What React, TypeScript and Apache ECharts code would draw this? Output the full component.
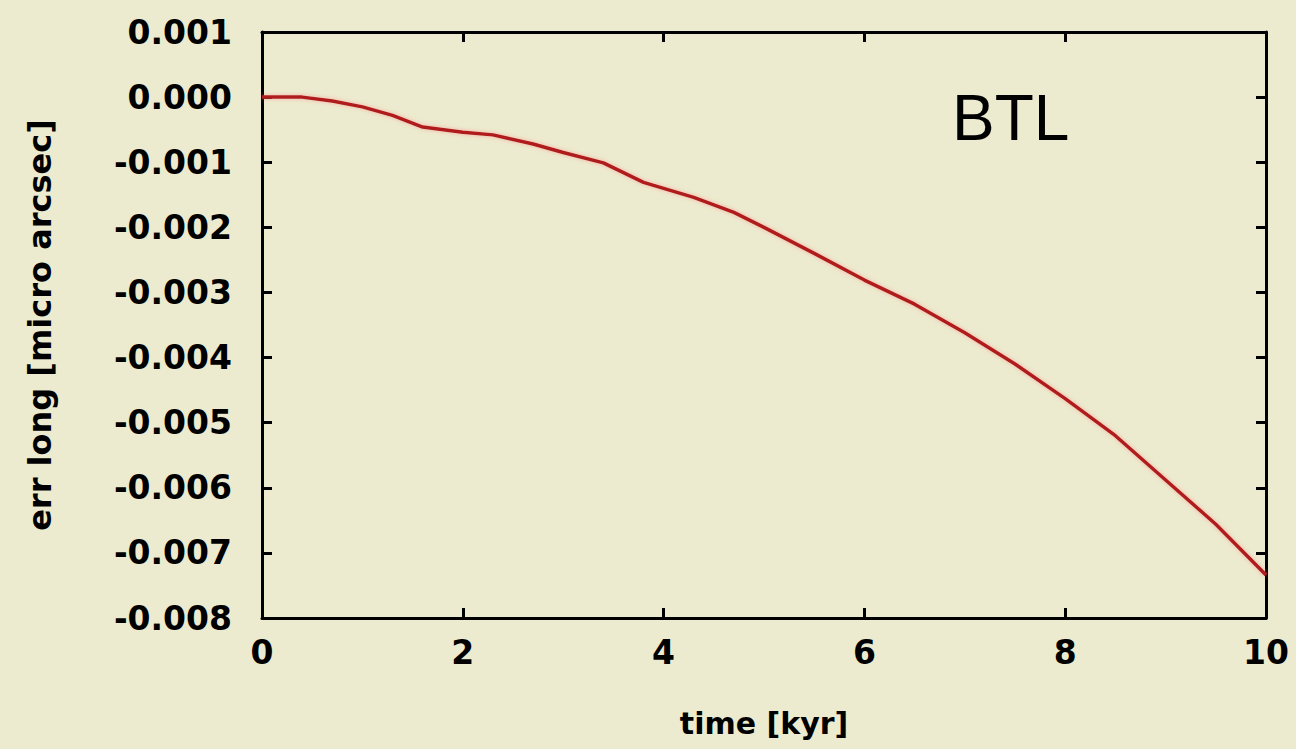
import React, { useEffect, useRef } from "react";
import * as echarts from "echarts";

// Time since epoch, in kyr
const timeKyr = [0, 0.4, 0.7, 1.0, 1.3, 1.6, 2.0, 2.3, 2.7, 3.0, 3.4, 3.8, 4.3, 4.7, 5.0, 5.5, 6.0, 6.5, 7.0, 7.5, 8.0, 8.5, 9.0, 9.5, 10.0];
// Longitude error, micro arcsec
const errLong = [0, 0, -0.00006, -0.00015, -0.00028, -0.00046, -0.00054, -0.00058, -0.00072, -0.00085, -0.00101, -0.00131, -0.00154, -0.00177, -0.002, -0.0024, -0.00281, -0.00318, -0.00362, -0.0041, -0.00463, -0.0052, -0.00588, -0.00656, -0.00734];

const xTicks = { min: 0, max: 10, step: 2 };
const yTicks = { min: -0.008, max: 0.001, step: 0.001 };

const seriesLabel = "BTL";
const xTitle = "time [kyr]";
const yTitle = "err long [micro arcsec]";

const FONT = "DejaVu Sans, Verdana, sans-serif";
const BTL_FONT = "Liberation Sans, Arial, sans-serif";

export default function App() {
  const ref = useRef<HTMLDivElement>(null);

  useEffect(() => {
    if (!ref.current) return;
    const chart = echarts.init(ref.current, null, { renderer: "svg" });
    const data = timeKyr.map((t, i) => [t, errLong[i]]);
    const tick = { show: true, inside: true, length: 10, lineStyle: { color: "#000", width: 3 } };
    const line = { show: true, onZero: false, lineStyle: { color: "#000", width: 3 } };
    const labelStyle = { color: "#000", fontFamily: FONT, fontSize: 33, fontWeight: "bold" as const };

    chart.setOption({
      animation: false,
      backgroundColor: "#ECEBCF",
      grid: { left: 262, right: 30, top: 32, bottom: 131 },
      xAxis: [
        {
          type: "value",
          min: xTicks.min,
          max: xTicks.max,
          interval: xTicks.step,
          position: "bottom",
          axisLine: line,
          axisTick: tick,
          splitLine: { show: false },
          axisLabel: { ...labelStyle, margin: 18 },
          name: xTitle,
          nameLocation: "middle",
          nameGap: 90,
          nameTextStyle: { ...labelStyle, fontSize: 30 },
        },
        {
          type: "value",
          min: xTicks.min,
          max: xTicks.max,
          interval: xTicks.step,
          position: "top",
          axisLine: line,
          axisTick: tick,
          splitLine: { show: false },
          axisLabel: { show: false },
        },
      ],
      yAxis: [
        {
          type: "value",
          min: yTicks.min,
          max: yTicks.max,
          interval: yTicks.step,
          position: "left",
          axisLine: line,
          axisTick: tick,
          splitLine: { show: false },
          axisLabel: {
            ...labelStyle,
            margin: 30,
            formatter: (v: number) => (Math.abs(v) < 1e-9 ? "0.000" : v.toFixed(3)),
          },
          name: yTitle,
          nameLocation: "middle",
          nameGap: 206,
          nameRotate: 90,
          nameTextStyle: { ...labelStyle, fontSize: 32 },
        },
        {
          type: "value",
          min: yTicks.min,
          max: yTicks.max,
          interval: yTicks.step,
          position: "right",
          axisLine: line,
          axisTick: tick,
          splitLine: { show: false },
          axisLabel: { show: false },
        },
      ],
      graphic: [
        {
          type: "text",
          left: 952,
          top: 86,
          style: { text: seriesLabel, fill: "#000", font: `64px ${BTL_FONT}` },
        },
      ],
      series: [
        {
          type: "line",
          data,
          showSymbol: false,
          lineStyle: {
            color: "#B01C1C",
            width: 3.5,
            shadowColor: "rgba(255,120,120,0.55)",
            shadowBlur: 4,
          },
        },
      ],
    });
    return () => chart.dispose();
  }, []);

  return (
    <div
      ref={ref}
      style={{ position: "fixed", left: 0, top: 0, width: 1296, height: 749 }}
    />
  );
}
